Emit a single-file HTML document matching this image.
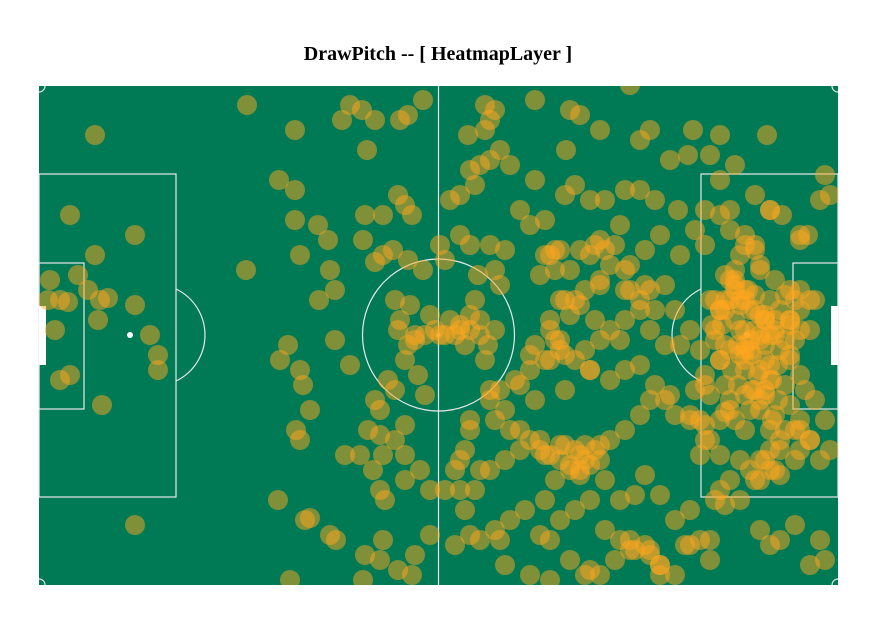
<!DOCTYPE html>
<html><head><meta charset="utf-8"><style>
html,body{margin:0;padding:0;background:#fff;width:873px;height:625px;overflow:hidden}
svg{display:block}
</style></head><body>
<svg id="chart" width="873" height="625">
<text x="438" y="60" text-anchor="middle" font-family="Liberation Serif, serif" font-weight="bold" font-size="20">DrawPitch -- [ HeatmapLayer ]</text>
<g id="pitch">
<rect x="39" y="86" width="799" height="499" fill="#007a55"/>
<g fill="none" stroke="#e8e8e8" stroke-width="1.2">
<line x1="438.5" y1="86" x2="438.5" y2="585"/>
<circle cx="438.5" cy="335" r="76"/>
<rect x="39" y="174" width="137" height="323"/>
<rect x="39" y="263" width="45" height="146"/>
<path d="M176,289 A51,51 0 0 1 176,381"/>
<rect x="701" y="174" width="137" height="323"/>
<rect x="793" y="263" width="45" height="146"/>
<path d="M701,289 A51,51 0 0 0 701,381"/>
<path d="M39,92 A6,6 0 0 0 45,86 M832,86 A6,6 0 0 0 838,92 M39,579 A6,6 0 0 1 45,585 M832,585 A6,6 0 0 1 838,579"/>
</g>
<rect x="39" y="306" width="7" height="59" fill="#fff"/>
<rect x="831" y="306" width="7" height="59" fill="#fff"/>
<circle cx="130" cy="335" r="3" fill="#fff"/>
<circle cx="747" cy="335" r="3" fill="#fff"/>
<circle cx="438.5" cy="335" r="2" fill="#fff"/>
</g>
<g id="marks"></g>
</svg>
<script>
// event locations in pitch units (length 0-799, width 0-499)
const xs = [56,208,256,311,323,336,303,328,361,369,384,240,256,256,279,289,261,207,291,280,296,326,344,359,366,373,324,344,336,354,369,384,31,96,56,39,49,21,9,29,61,69,59,96,16,111,119,119,31,21,63,96,241,249,296,311,261,264,356,361,371,369,376,386,391,359,366,356,349,379,386,336,341,329,341,356,366,344,334,321,306,271,257,261,341,346,366,391,239,266,271,291,297,326,344,359,376,373,391,251,324,341,11,
401,411,421,431,426,441,449,446,456,436,439,456,461,466,451,421,431,406,401,411,421,431,441,451,436,446,451,446,456,461,429,471,496,531,541,561,591,601,611,631,649,654,671,681,696,728,527,496,481,491,506,526,536,551,566,586,601,616,639,656,641,621,606,581,561,541,521,511,501,516,531,546,561,571,586,591,611,626,636,651,641,626,611,601,586,571,556,541,526,511,496,491,506,521,536,551,571,586,601,616,631,651,661,671,681,676,681,686,696,706,716,726,736,751,761,771,721,711,701,691,706,721,731,741,756,766,776,721,711,696,731,741,761,781,791,771,756,741,726,711,691,681,701,721,736,756,771,786,761,746,731,716,701,681,671,651,636,626,611,601,586,571,561,546,531,516,506,521,536,551,566,581,596,611,621,621,636,651,671,646,621,606,591,576,561,551,531,511,501,486,471,456,441,426,436,451,466,481,471,456,441,426,431,451,466,481,496,481,491,506,521,541,566,581,596,606,621,636,651,661,666,661,656,666,666,661,676,686,701,716,706,696,721,706,731,681,691,716,666,761,743,731,716,691,681,666,761,769,781,791,786,776,706,701,686,741,756,781,786,771,731,721,671,591,611,546,511,466,491,461,416,431,421,406,416,421,431,451,461,476,491,511,526,551,561,581,601,616,521,526,511,516,501,541,556,721,731,741,711,701,726,741,751,761,771,721,706,731,751,761,726,716,706,733,691,686,726,736,
676,686,696,706,716,731,746,756,671,681,691,701,711,726,736,751,673,683,696,716,731,746,676,686,699,713,726,739,751,681,693,706,719,733,746,686,699,713,726,739,751,691,706,721,736,681,666,761,761,721,706,721,736,751,691,709,696,
506,516,526,536,511,521,531,541,551,561,501,546,
366,381,396,406,416,431,376,421,441,
531,546,556,566,551,576,591,561,536,521,606,586];
const ys = [49,19,44,19,24,34,34,64,34,29,14,94,104,134,139,154,169,184,184,214,204,129,129,109,119,129,154,169,176,164,174,184,129,149,169,189,204,214,214,216,214,212,234,219,244,249,269,284,289,294,319,439,274,259,254,279,284,299,214,234,219,259,249,249,229,244,274,304,294,289,309,314,324,344,349,354,339,369,384,369,369,324,344,354,404,414,394,404,414,434,432,449,454,469,454,484,469,489,449,494,494,474,194,
249,234,239,229,259,249,259,274,244,214,189,184,199,164,159,149,159,174,159,114,109,84,79,74,99,44,34,19,24,64,49,79,14,24,29,44,-1,54,44,74,69,44,69,49,79,49,64,94,124,139,134,109,99,114,114,104,104,114,124,144,169,149,164,139,154,164,164,169,189,184,184,204,194,179,184,204,204,199,224,244,259,259,244,224,234,244,234,219,214,244,259,269,274,264,274,284,294,284,279,299,309,329,334,309,274,244,224,214,204,214,224,234,244,234,224,244,254,264,269,264,274,284,294,264,254,304,314,314,324,334,344,354,364,374,364,354,344,364,374,384,394,404,414,394,384,374,354,334,344,344,384,394,374,369,354,334,329,314,314,329,344,354,359,374,384,394,414,434,424,414,444,454,464,469,479,489,489,459,474,459,479,459,464,474,489,484,474,454,449,424,434,444,454,424,404,384,374,364,344,334,384,364,334,304,324,299,314,344,354,369,374,389,394,414,409,389,409,434,424,454,354,369,304,299,289,264,214,189,169,159,149,184,179,159,124,129,124,109,159,149,129,124,164,144,94,124,154,149,114,109,89,214,244,214,224,454,439,454,474,479,459,444,454,454,464,489,494,479,489,454,459,449,404,404,384,374,344,314,304,294,284,274,304,284,254,254,214,224,254,269,234,254,354,369,364,374,364,389,254,244,259,224,234,204,214,249,264,279,269,289,304,304,344,334,324,326,234,249,414,419,
199,204,209,214,209,214,214,224,214,219,224,229,234,239,239,239,234,244,249,254,254,259,259,269,274,279,274,274,284,284,289,294,299,299,299,304,309,314,319,314,309,324,329,334,339,334,244,229,259,184,194,204,194,204,194,169,164,
359,364,369,359,379,384,379,374,364,359,369,384,
244,249,249,244,254,244,234,229,264,
159,164,169,159,179,199,214,214,199,204,214,164];
const dotRadius = 10;
const X0 = 39, Y0 = 86, PW = 799, PH = 499;
function xScale(v){ return X0 + v / 799 * PW; }
function yScale(v){ return Y0 + v / 499 * PH; }
const g = document.getElementById('marks');
const n = Math.min(xs.length, ys.length);
for (let i = 0; i < n; i++) {
  const c = document.createElementNS('http://www.w3.org/2000/svg', 'circle');
  c.setAttribute('cx', xScale(xs[i]));
  c.setAttribute('cy', yScale(ys[i]));
  c.setAttribute('r', dotRadius);
  c.setAttribute('fill', 'rgba(255,166,30,0.5)');
  
  
  g.appendChild(c);
}
const clip = document.createElementNS('http://www.w3.org/2000/svg','clipPath');
clip.setAttribute('id','pc');
const cr = document.createElementNS('http://www.w3.org/2000/svg','rect');
cr.setAttribute('x',X0);cr.setAttribute('y',Y0);cr.setAttribute('width',PW);cr.setAttribute('height',PH);
clip.appendChild(cr);
document.getElementById('chart').appendChild(clip);
g.setAttribute('clip-path','url(#pc)');
</script>
</body></html>
